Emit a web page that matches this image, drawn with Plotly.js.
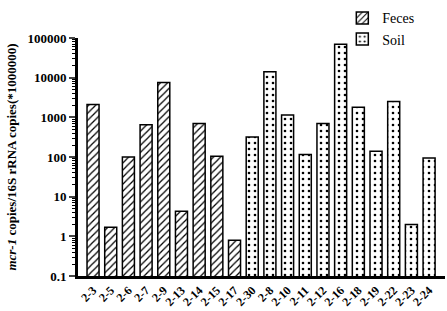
<!DOCTYPE html>
<html><head><meta charset="utf-8">
<script src="https://cdn.plot.ly/plotly-3.0.1.min.js"></script>
<style>body{margin:0;background:#fff}#c{width:447px;height:311px}</style>
</head><body><div id="c"></div>
<script>
const categories = ["2-3","2-5","2-6","2-7","2-9","2-13","2-14","2-15","2-17","2-30","2-8","2-10","2-11","2-12","2-16","2-18","2-19","2-22","2-23","2-24"];
const fecesCats = ["2-3","2-5","2-6","2-7","2-9","2-13","2-14","2-15","2-17"];
const fecesVals = [2100, 1.7, 100, 650, 7500, 4.3, 700, 105, 0.8];
const soilCats = ["2-30","2-8","2-10","2-11","2-12","2-16","2-18","2-19","2-22","2-23","2-24"];
const soilVals = [320, 14000, 1150, 115, 700, 70000, 1800, 140, 2500, 2, 95];
const yTickVals = [0.1, 1, 10, 100, 1000, 10000, 100000];
const yTickText = ["0.1", "1", "10", "100", "1000", "10000", "100000"];

const font = {family: "Liberation Serif", color: "#000"};
const traces = [
  {type:"bar", name:"Feces", x:fecesCats, y:fecesVals, width:0.68,
   marker:{color:"white", line:{color:"black", width:1.5},
     pattern:{shape:"/", fgcolor:"black", bgcolor:"white", size:5, solidity:0.25}}},
  {type:"bar", name:"Soil", x:soilCats, y:soilVals, width:0.68,
   marker:{color:"white", line:{color:"black", width:1.5},
     pattern:{shape:".", fgcolor:"black", bgcolor:"white", size:6, solidity:0.15}}}
];
const layout = {
  width:447, height:311,
  margin:{l:78, r:2, t:32, b:35},
  paper_bgcolor:"white", plot_bgcolor:"white",
  barmode:"overlay",
  showlegend:true,
  legend:{x:0.93, xanchor:"right", y:1.15, yanchor:"top", bgcolor:"rgba(0,0,0,0)",
    font:Object.assign({size:14}, font), tracegroupgap:0},
  xaxis:{type:"category", categoryorder:"array", categoryarray:categories,
    range:[-0.85, 19.9], tickangle:-45, showline:true, linewidth:2.5, linecolor:"black",
    ticks:"", showgrid:false, zeroline:false,
    tickfont:Object.assign({size:12, weight:"bold"}, font)},
  yaxis:{type:"log", range:[-1, 5], tickmode:"array", tickvals:yTickVals, ticktext:yTickText,
    showline:true, linewidth:3, linecolor:"black", ticks:"outside", ticklen:6, tickwidth:2,
    showgrid:false, zeroline:false,
    minor:{dtick:"D1", ticks:"outside", ticklen:3, tickwidth:1, tickcolor:"black", showgrid:false},
    tickfont:Object.assign({size:13, weight:"bold"}, font),
    title:{text:"<i>mcr-1</i> copies/16S rRNA copies(*1000000)", standoff:8,
      font:Object.assign({size:13, weight:"bold"}, font)}}
};
Plotly.newPlot("c", traces, layout, {displayModeBar:false, staticPlot:true});
</script>
</body></html>
